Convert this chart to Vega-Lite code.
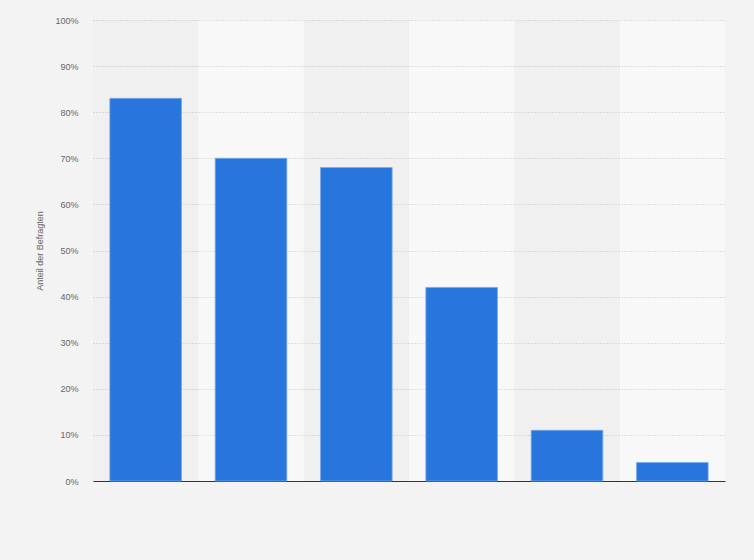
{
  "$schema": "https://vega.github.io/schema/vega-lite/v6.json",
  "width": 632,
  "height": 461,
  "autosize": "none",
  "padding": {"left": 93, "top": 20, "right": 29, "bottom": 79},
  "background": "#f3f3f3",
  "data": {
    "values": [
      {"kategorie": "1", "anteil": 83},
      {"kategorie": "2", "anteil": 70},
      {"kategorie": "3", "anteil": 68},
      {"kategorie": "4", "anteil": 42},
      {"kategorie": "5", "anteil": 11},
      {"kategorie": "6", "anteil": 4}
    ]
  },
  "encoding": {
    "x": {
      "field": "kategorie",
      "type": "nominal",
      "sort": null,
      "scale": {
        "domain": ["1", "2", "3", "4", "5", "6"],
        "paddingInner": 0,
        "paddingOuter": 0
      },
      "axis": {
        "labels": false,
        "ticks": false,
        "title": null,
        "grid": false,
        "domainColor": "#333333",
        "domainWidth": 1
      }
    }
  },
  "layer": [
    {
      "transform": [
        {"window": [{"op": "row_number", "as": "nr"}]},
        {"filter": "datum.nr % 2 == 1"}
      ],
      "mark": {"type": "bar", "color": "#000000", "opacity": 0.03},
      "encoding": {
        "y": {
          "datum": 100,
          "type": "quantitative",
          "scale": {"domain": [0, 100]},
          "axis": {
            "values": [0, 10, 20, 30, 40, 50, 60, 70, 80, 90, 100],
            "labelExpr": "datum.value + '%'",
            "ticks": false,
            "domain": false,
            "grid": true,
            "labelPadding": 15,
            "labelFontSize": 9,
            "labelColor": "#666666",
            "gridColor": "#c8c8c8",
            "gridDash": [1, 2],
            "gridWidth": 1,
            "title": "Anteil der Befragten",
            "titleFontSize": 9,
            "titleFontWeight": "normal",
            "titleColor": "#666666",
            "titlePadding": 10
          }
        }
      }
    },
    {
      "mark": {
        "type": "bar",
        "width": {"band": 0.68},
        "color": "#2876dd",
        "stroke": "#7aaaea",
        "strokeWidth": 0.8
      },
      "encoding": {
        "y": {
          "field": "anteil",
          "type": "quantitative",
          "scale": {"domain": [0, 100]},
          "axis": {
            "values": [0, 10, 20, 30, 40, 50, 60, 70, 80, 90, 100],
            "labelExpr": "datum.value + '%'",
            "ticks": false,
            "domain": false,
            "grid": true,
            "labelPadding": 15,
            "labelFontSize": 9,
            "labelColor": "#666666",
            "gridColor": "#c8c8c8",
            "gridDash": [1, 2],
            "gridWidth": 1,
            "title": "Anteil der Befragten",
            "titleFontSize": 9,
            "titleFontWeight": "normal",
            "titleColor": "#666666",
            "titlePadding": 10
          }
        }
      }
    }
  ],
  "config": {
    "font": "Liberation Sans",
    "view": {"fill": "#f8f8f8", "stroke": null}
  }
}
